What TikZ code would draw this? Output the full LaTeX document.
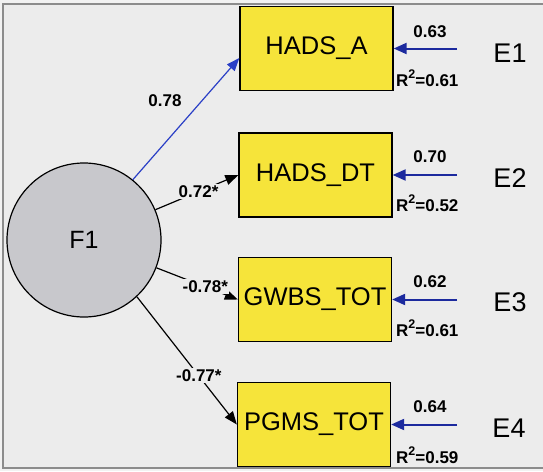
\documentclass[tikz,border=0pt]{standalone}
\usepackage{fontspec}
\setmainfont{Liberation Sans}
\usetikzlibrary{arrows.meta,calc}
\definecolor{bgc}{HTML}{ECECEC}
\definecolor{outc}{HTML}{F2F2F2}
\definecolor{framec}{HTML}{8C8C8C}
\definecolor{boxy}{HTML}{F6E43A}
\definecolor{circ}{HTML}{C8C8CC}
\definecolor{lblue}{HTML}{2A3FC6}
\definecolor{navy}{HTML}{1C2A9E}
\newcommand{\rsq}[1]{R\raisebox{0.5em}{\fontsize{12.5}{12.5}\selectfont 2}=#1}
\begin{document}
\begin{tikzpicture}[x=1pt,y=-1pt,
  var/.style={draw=black, line width=1.3pt, fill=boxy, minimum width=153pt, minimum height=84pt, inner sep=0pt, font=\fontsize{25.5}{26}\selectfont},
  lat/.style={circle, draw=black, line width=1.2pt, fill=circ, minimum size=154pt, inner sep=0pt, font=\fontsize{25}{26}\selectfont},
  errlbl/.style={inner sep=0pt, font=\fontsize{27}{28}\selectfont},
  coef/.style={inner sep=1pt, font=\fontsize{17}{17}\selectfont\bfseries},
  rlbl/.style={inner sep=0pt, anchor=west, font=\fontsize{17}{17}\selectfont\bfseries},
  lbl/.style={coef, fill=bgc, inner sep=1.5pt},
  load/.style={line width=1.2pt, -{Triangle[length=13pt,width=10pt]}},
  bload/.style={load, draw=lblue},
  errarr/.style={draw=navy, line width=2pt, -{Triangle[length=13pt,width=11pt]}}
]
\useasboundingbox (0,0) rectangle (543,471);
\fill[outc] (0,0) rectangle (543,471);
\draw[framec, line width=2pt, fill=bgc] (3,4) rectangle (560,468);

\node[lat] (F1) at (84,240) {F1};
\node[var] (HA) at (316.5,48.5) {HADS\_A};
\node[var] (HD) at (315.5,175) {HADS\_DT};
\node[var] (GW) at (315,299.5) {GWBS\_TOT};
\node[var] (PG) at (314,424.5) {PGMS\_TOT};

\draw[bload] (F1.51) -- node[coef, pos=0.65, left=19pt] {0.78} ($(HA.west)+(0,9.5)$);
\draw[load] (F1.23) -- node[lbl, pos=0.52] {0.72*} (HD.west);
\draw[load] (F1.-21) -- node[lbl, pos=0.6] {-0.78*} (GW.west);
\draw[load] (F1.-47) -- node[lbl, pos=0.62] {-0.77*} (PG.west);

\coordinate (c1) at (457,48.5);
\coordinate (c2) at (457,175);
\coordinate (c3) at (457,299.5);
\coordinate (c4) at (457,424.5);
\draw[errarr] (c1) -- (HA.east);
\draw[errarr] (c2) -- (HD.east);
\draw[errarr] (c3) -- (GW.east);
\draw[errarr] (c4) -- (PG.east);

\node[errlbl] (E1) at (510,53) {E1};
\node[errlbl] (E2) at (510,178) {E2};
\node[errlbl] (E3) at (510,302) {E3};
\node[errlbl] (E4) at (509,428) {E4};

\node[coef] (k1) at (430,32) {0.63};
\node[coef] (k2) at (430,157) {0.70};
\node[coef] (k3) at (430,282) {0.62};
\node[coef] (k4) at (430,407) {0.64};

\node[rlbl] (r1) at (396,78) {\rsq{0.61}};
\node[rlbl] (r2) at (396,203) {\rsq{0.52}};
\node[rlbl] (r3) at (396,328) {\rsq{0.61}};
\node[rlbl] (r4) at (396,455) {\rsq{0.59}};
\end{tikzpicture}
\end{document}
